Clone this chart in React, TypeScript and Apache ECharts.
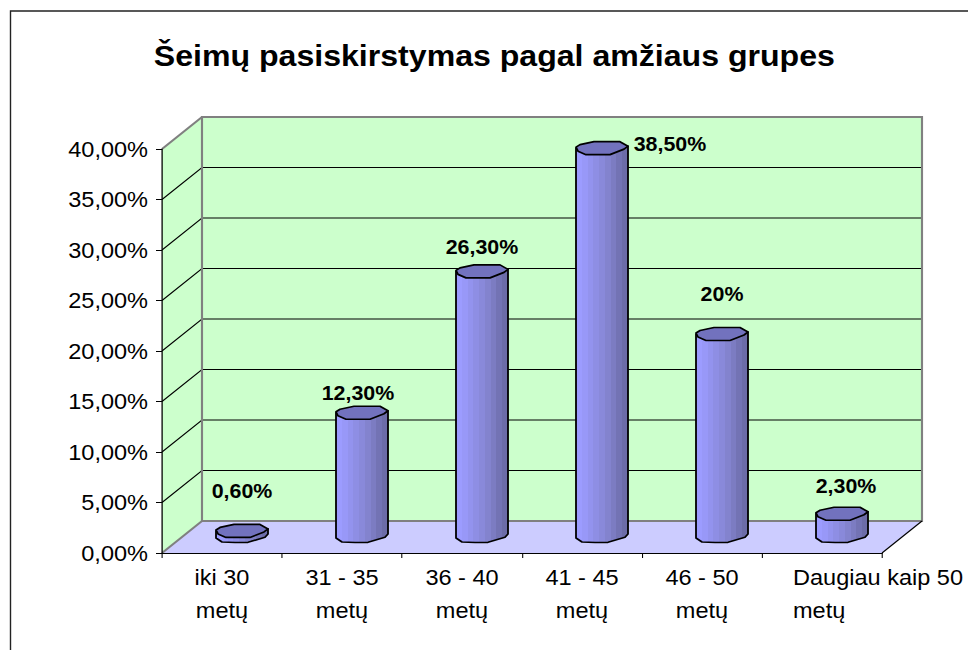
import React, { useEffect, useRef } from "react";
import * as echarts from "echarts";

const titleText = "Šeimų pasiskirstymas pagal amžiaus grupes";
const categories = ["iki 30\nmetų", "31 - 35\nmetų", "36 - 40\nmetų", "41 - 45\nmetų", "46 - 50\nmetų", "Daugiau kaip 50\nmetų"];
const values = [0.6, 12.3, 26.3, 38.5, 20.1, 2.3];
const valueLabels = ["0,60%", "12,30%", "26,30%", "38,50%", "20%", "2,30%"];
const yTicks = [0, 5, 10, 15, 20, 25, 30, 35, 40];

// hand placement of the data labels, relative to the top of each column (output px)
const labelDx = [0, -4, 0, 68, 0, 4];
const labelDy = [-40, -20, -25, -4, -40, -28];

// The reference image is stretched horizontally; the whole chart is stretched the same way.
const SX = 1.07;
const X = (px: number) => px / SX;
const DEPTH_X = X(40);
const DEPTH_Y = 32;
const FONT = "'Liberation Sans', Arial, sans-serif";

const capShape = [[-26, -1], [-22, -3.5], [-8, -6.5], [18, -6.5], [26, -2], [22, 1], [8, 6.5], [-16, 6.5], [-24, 3]];
const baseShape = [[-26, 1], [-20, 5], [-7, 5.5], [6, 5.3], [23, 0.3], [26, -3]];
const bandColors = ["#9C9CFF", "#9898F8", "#9393EE", "#8E8EE4", "#8989DA", "#8383CE", "#7C7CC2", "#7373B4", "#6C6CA8"];

const sideFill = {
  type: "linear", x: 0, y: 0, x2: 1, y2: 0,
  colorStops: bandColors.flatMap((c, i) => [
    { offset: i / bandColors.length, color: c },
    { offset: (i + 1) / bandColors.length, color: c },
  ]),
};

function renderWalls(params: any, api: any) {
  const r = params.coordSys;
  const l = r.x, rr = r.x + r.width, t = r.y, b = r.y + r.height;
  const grey = { stroke: "#808080", lineWidth: 2, fill: "none" };
  const children: any[] = [
    { type: "polygon", shape: { points: [[l, t], [l + DEPTH_X, t - DEPTH_Y], [l + DEPTH_X, b - DEPTH_Y], [l, b]] }, style: { fill: "#CCFFCC" } },
    { type: "rect", shape: { x: l + DEPTH_X, y: t - DEPTH_Y, width: r.width, height: r.height }, style: { fill: "#CCFFCC" } },
    { type: "polygon", shape: { points: [[l, b], [l + DEPTH_X, b - DEPTH_Y], [rr + DEPTH_X, b - DEPTH_Y], [rr, b]] }, style: { fill: "#CCCCFF" } },
  ];
  yTicks.slice(1, -1).forEach((v) => {
    const y = api.coord([0, v])[1];
    children.push({
      type: "polyline",
      shape: { points: [[l, y], [l + DEPTH_X, y - DEPTH_Y], [rr + DEPTH_X, y - DEPTH_Y]] },
      style: { stroke: "#000", lineWidth: 1, fill: "none" },
    });
  });
  children.push(
    { type: "rect", shape: { x: l + DEPTH_X, y: t - DEPTH_Y, width: r.width, height: r.height }, style: { ...grey } },
    { type: "line", shape: { x1: l, y1: t, x2: l + DEPTH_X, y2: t - DEPTH_Y }, style: { ...grey } },
    { type: "line", shape: { x1: l, y1: b, x2: l + DEPTH_X, y2: b - DEPTH_Y }, style: { ...grey } },
    { type: "line", shape: { x1: rr, y1: b, x2: rr + DEPTH_X, y2: b - DEPTH_Y }, style: { stroke: "#000", lineWidth: 1 } },
  );
  return { type: "group", children };
}

function renderColumn(params: any, api: any) {
  const i = api.value(0);
  const top = api.coord([i, api.value(1)]);
  const base = api.coord([i, 0]);
  const cx = top[0] + DEPTH_X / 2;
  const topY = top[1] - DEPTH_Y / 2;
  const baseY = base[1] - DEPTH_Y / 2;
  const p = (o: number[], y: number) => [cx + X(o[0]), y + o[1]];
  const side = [
    p([-26, 0], topY),
    ...baseShape.map((o) => p(o, baseY)),
    p([26, -2], topY),
  ];
  const stroke = { stroke: "#000", lineWidth: 1.7, lineJoin: "round" };
  return {
    type: "group",
    children: [
      { type: "polygon", shape: { points: side }, style: { fill: sideFill, ...stroke } },
      { type: "polygon", shape: { points: capShape.map((o) => p(o, topY)) }, style: { fill: "#7272BE", ...stroke } },
      {
        type: "text",
        style: {
          text: valueLabels[i],
          x: cx + X(labelDx[i]),
          y: topY + labelDy[i],
          fill: "#000",
          font: `bold 20px ${FONT}`,
          align: "center",
          verticalAlign: "middle",
        },
      },
    ],
  };
}

export default function App() {
  const ref = useRef<HTMLDivElement>(null);
  useEffect(() => {
    document.body.style.margin = "0";
    const chart = echarts.init(ref.current!, null, { renderer: "svg" });
    const labelStyle = { fontFamily: FONT, fontSize: 22, color: "#000" };
    chart.setOption({
      animation: false,
      backgroundColor: "#fff",
      title: {
        text: titleText,
        left: X(489),
        top: 36,
        textAlign: "center",
        textStyle: { fontFamily: FONT, fontSize: 30, fontWeight: "bold", color: "#000" },
      },
      graphic: [
        {
          type: "polyline",
          z: 20,
          shape: { points: [[X(10.5), 700], [X(10.5), 11], [X(1100), 11]] },
          style: { stroke: "#222", lineWidth: 1.3, fill: "none" },
        },
      ],
      grid: { left: X(162), width: X(720), top: 149, height: 404 },
      xAxis: {
        type: "category",
        z: 5,
        data: categories.map((c, i) =>
          i === categories.length - 1
            ? { value: c, textStyle: { align: "left", padding: [0, 0, 0, -X(29)] } }
            : c,
        ),
        axisLine: { show: true, lineStyle: { color: "#000", width: 1.2 } },
        axisTick: { show: true, length: 5, lineStyle: { color: "#000" } },
        axisLabel: { ...labelStyle, interval: 0, margin: 8, lineHeight: 33, hideOverlap: false },
        splitLine: { show: false },
      },
      yAxis: {
        type: "value",
        z: 5,
        min: 0,
        max: 40,
        interval: 5,
        axisLine: { show: true, lineStyle: { color: "#000", width: 1.2 } },
        axisTick: { show: true, length: X(6), lineStyle: { color: "#000" } },
        axisLabel: {
          ...labelStyle,
          margin: X(14),
          formatter: (v: number) => `${v.toFixed(2).replace(".", ",")}%`,
        },
        splitLine: { show: false },
      },
      series: [
        { type: "custom", z: 1, silent: true, coordinateSystem: "cartesian2d", data: [[0, 0]], renderItem: renderWalls },
        {
          type: "custom",
          z: 6,
          coordinateSystem: "cartesian2d",
          data: values.map((v, i) => [i, v]),
          encode: { x: 0, y: 1 },
          clip: false,
          renderItem: renderColumn,
        },
      ],
    });
    return () => chart.dispose();
  }, []);
  return (
    <div
      ref={ref}
      style={{
        position: "absolute",
        left: 0,
        top: 0,
        width: 968 / SX,
        height: 650,
        transform: `scaleX(${SX})`,
        transformOrigin: "0 0",
      }}
    />
  );
}
